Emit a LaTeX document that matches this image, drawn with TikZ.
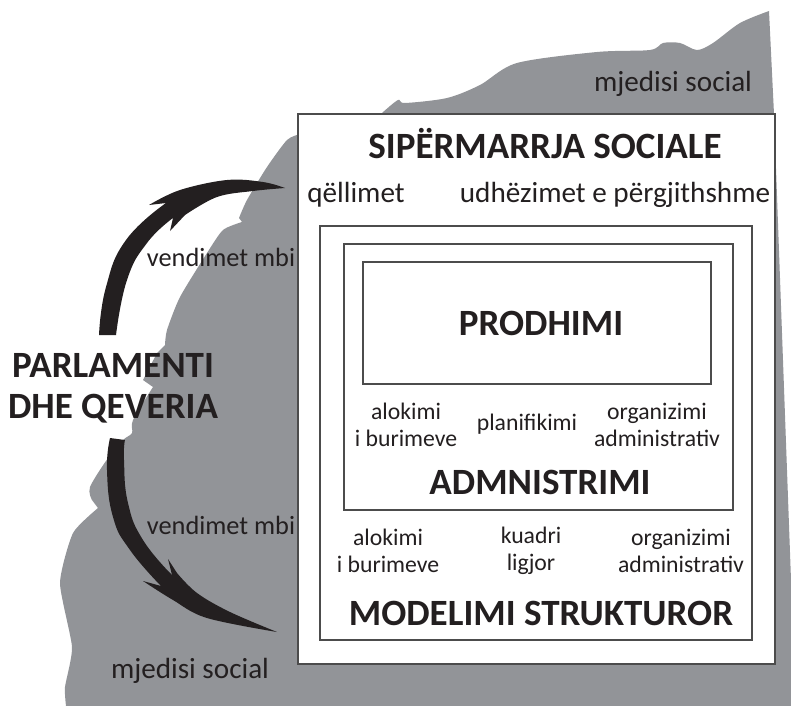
\documentclass[tikz,border=0pt]{standalone}
\usepackage{fontspec}
\setmainfont{Carlito}
\definecolor{socialgray}{HTML}{929498}
\definecolor{inkdark}{HTML}{231F20}
\begin{document}
\begin{tikzpicture}[x=0.02cm,y=-0.02cm]

% definitions
\tikzstyle{frame} = [rectangle, draw=black!70, line width=0.7pt, fill=white]
\tikzstyle{small} = [text=inkdark, align=center, inner sep=0pt, font=\fontsize{13.5}{15.4}\selectfont]
\tikzstyle{medium} = [text=inkdark, align=center, inner sep=0pt, font=\fontsize{15}{18}\selectfont]
\tikzstyle{large} = [text=inkdark, align=center, inner sep=0pt, font=\fontsize{16.6}{20}\selectfont]
\tikzstyle{title} = [text=inkdark, align=center, inner sep=0pt, font=\fontsize{21.1}{23.4}\selectfont\bfseries]
\tikzstyle{bigarrow} = [fill=inkdark]

\useasboundingbox (0,0) rectangle (791,706);

% the grey ground behind the frames
\fill [socialgray] plot [smooth, tension=0.35] coordinates {(66,706) (65,687) (72,647) (60,583) (73,533) (98,508)}
  -- (92,500) -- plot [smooth, tension=0.5] coordinates {(92,500) (90,487) (108,458) (123,440) (132,433) (133,420) (153,387)}
  -- (143,380) -- (157,353) -- (165,345) -- plot [smooth, tension=0.4] coordinates {(165,345) (167,330) (180,297) (207,253) (223,230) (242,222)}
  -- (239,218) -- plot [smooth, tension=0.4] coordinates {(239,218) (247,200) (267,167) (287,140) (300,134)}
  -- (382,116) -- plot [smooth, tension=0.5] coordinates {(382,113) (398,100) (405,103) (447,98) (480,85) (517,63) (597,52) (650,50) (663,43) (680,43) (697,50) (713,43) (740,23) (769,11)}
  -- (774,114) -- (791,580) -- (791,706) -- cycle;

% the frames
\node (sipermarrja) [frame, minimum width=9.54cm, minimum height=11cm] at (536.5,389) {};
\node (modelimi) [frame, minimum width=8.64cm, minimum height=8.28cm] at (536,433) {};
\node (administrimi) [frame, minimum width=7.78cm, minimum height=5.32cm] at (538.5,377) {};
\node (prodhimi) [frame, minimum width=6.96cm, minimum height=2.44cm] at (537,323) {};

% the two curved arrows
\fill [bigarrow] plot [smooth, tension=0.8] coordinates {(99,335) (106,287) (126,240) (166,203)}
  -- (149,205) -- plot [smooth, tension=0.6] coordinates {(149,205) (180,190) (227,180) (263,182) (285,188)}
  -- plot [smooth, tension=0.6] coordinates {(285,188) (253,191) (217,197) (185,215)}
  -- (170,231) -- plot [smooth, tension=0.8] coordinates {(173,218) (147,243) (127,280) (116,335)} -- cycle;
\fill [bigarrow] plot [smooth, tension=0.8] coordinates {(110,438) (107,470) (113,517) (130,550) (161,586)}
  -- (143,581) -- plot [smooth, tension=0.6] coordinates {(143,581) (173,600) (207,618) (277,632)}
  -- plot [smooth, tension=0.6] coordinates {(277,632) (230,612) (197,593) (177,573)}
  -- (168,559) -- plot [smooth, tension=0.8] coordinates {(172,575) (143,540) (128,503) (124,460) (125,440)} -- cycle;

% the texts
\node (topsocial) [large] at (673,84) {mjedisi social};
\node (bottomsocial) [large] at (190,671) {mjedisi social};
\node (parlamenti) [title] at (113,388) {PARLAMENTI\\DHE QEVERIA};
\node (upperdecision) [medium] at (221,257) {vendimet mbi};
\node (lowerdecision) [medium] at (221,525) {vendimet mbi};

\node (sipermarrjatitle) [title] at (545,144) {SIPËRMARRJA SOCIALE};
\node (qellimet) [large] at (356,195) {qëllimet};
\node (udhezimet) [large] at (615,195) {udhëzimet e përgjithshme};

\node (prodhimititle) [title] at (541,323) {PRODHIMI};

\node (alokimi1) [small] at (406,425) {alokimi\\i burimeve};
\node (planifikimi) [small] at (527,424) {planifikimi};
\node (organizimi1) [small] at (657,425) {organizimi\\administrativ};
\node (administrimititle) [title] at (540,482) {ADMNISTRIMI};

\node (alokimi2) [small] at (388,551) {alokimi\\i burimeve};
\node (kuadri) [small] at (531,551) {kuadri\\ligjor};
\node (organizimi2) [small] at (681,551) {organizimi\\administrativ};
\node (modelimititle) [title] at (541,613) {MODELIMI STRUKTUROR};

\end{tikzpicture}
\end{document}
